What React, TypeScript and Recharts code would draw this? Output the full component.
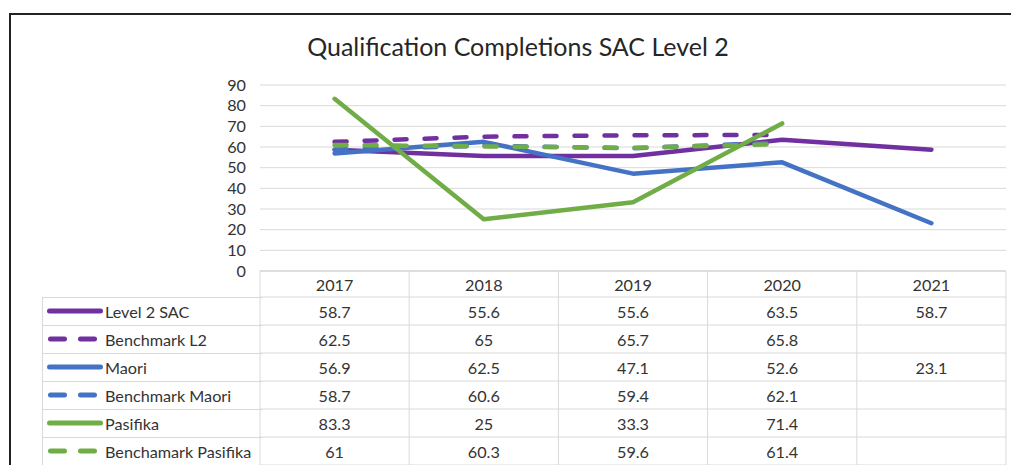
import { LineChart, Line, XAxis, YAxis, CartesianGrid } from 'recharts'

const years = ['2017', '2018', '2019', '2020', '2021']
const level2Sac = [58.7, 55.6, 55.6, 63.5, 58.7]
const benchmarkL2 = [62.5, 65, 65.7, 65.8, null]
const maori = [56.9, 62.5, 47.1, 52.6, 23.1]
const benchmarkMaori = [58.7, 60.6, 59.4, 62.1, null]
const pasifika = [83.3, 25, 33.3, 71.4, null]
const benchmarkPasifika = [61, 60.3, 59.6, 61.4, null]
const yTicks = [0, 10, 20, 30, 40, 50, 60, 70, 80, 90]

const series = [
  { key: 'l2', name: 'Level 2 SAC', values: level2Sac, color: '#7030A0', dashed: false },
  { key: 'bl2', name: 'Benchmark L2', values: benchmarkL2, color: '#7030A0', dashed: true },
  { key: 'm', name: 'Maori', values: maori, color: '#4472C4', dashed: false },
  { key: 'bm', name: 'Benchmark Maori', values: benchmarkMaori, color: '#4472C4', dashed: true },
  { key: 'p', name: 'Pasifika', values: pasifika, color: '#70AD47', dashed: false },
  { key: 'bp', name: 'Benchamark Pasifika', values: benchmarkPasifika, color: '#70AD47', dashed: true },
]

const data = years.map((y, i) => {
  const row: any = { year: y }
  series.forEach(s => { row[s.key] = s.values[i] })
  return row
})

const FONT = 'Lato, "Open Sans", sans-serif'
const TEXT = '#333333'
const GRID = '#d9d9d9'
const FS = 16.2
const HALF = 74.6
const HEAD_H = 26
const ROW_H = 28

function TableTick(props: any) {
  const { x, y, payload, index } = props
  const i = payload.index ?? index
  const lines = []
  lines.push(<line key='top' x1={x - HALF} x2={x + HALF} y1={y} y2={y} stroke={GRID} />)
  for (let r = 0; r <= series.length; r++) {
    const yy = y + HEAD_H + r * ROW_H
    lines.push(<line key={'h' + r} x1={x - HALF} x2={x + HALF} y1={yy} y2={yy} stroke={GRID} />)
  }
  return (
    <g>
      {lines}
      {i === 0 && <line x1={x - HALF} x2={x - HALF} y1={y} y2={y + 200} stroke={GRID} />}
      <line x1={x + HALF} x2={x + HALF} y1={y} y2={y + 200} stroke={GRID} />
      <text x={x} y={y + HEAD_H / 2} textAnchor='middle' dominantBaseline='central' fontSize={FS} fill={TEXT} fontFamily={FONT}>{payload.value}</text>
      {series.map((s, r) => {
        const v = s.values[i]
        return v == null ? null : (
          <text key={s.key} x={x} y={y + HEAD_H + r * ROW_H + ROW_H / 2} textAnchor='middle' dominantBaseline='central' fontSize={FS} fill={TEXT} fontFamily={FONT}>{v}</text>
        )
      })}
    </g>
  )
}

function LegendColumn() {
  return (
    <svg width={220} height={180} style={{ position: 'absolute', left: 42, top: 297 }}>
      <line x1={0.5} x2={0.5} y1={0} y2={180} stroke={GRID} />
      {series.map((s, r) => (
        <g key={s.key}>
          <line x1={0} x2={220} y1={r * ROW_H + 0.5} y2={r * ROW_H + 0.5} stroke={GRID} />
          <line x1={s.dashed ? 8.5 : 7.5} x2={s.dashed ? 58 : 58.5} y1={r * ROW_H + 14} y2={r * ROW_H + 14}
            stroke={s.color} strokeWidth={5} strokeLinecap='round'
            strokeDasharray={s.dashed ? '14 16' : undefined} />
          <text x={63} y={r * ROW_H + 14} dominantBaseline='central' fontSize={FS} fill={TEXT} fontFamily={FONT}>{s.name}</text>
        </g>
      ))}
    </svg>
  )
}

export default function App() {
  return (
    <div style={{ position: 'relative', width: 1011, height: 465, overflow: 'hidden', background: '#fff' }}>
      <style>{'body{margin:0}'}</style>
      <div style={{ position: 'absolute', left: 9, top: 13, width: 1010, height: 460, borderTop: '2px solid #222', borderLeft: '2px solid #222' }} />
      <div style={{ position: 'absolute', left: 8, top: 31, width: 1020, textAlign: 'center', fontFamily: FONT, fontSize: 25, color: '#262626' }}>
        Qualification Completions SAC Level 2
      </div>
      <LineChart width={1011} height={465} data={data} margin={{ top: 85, right: 5, bottom: 0, left: 220 }}>
        <CartesianGrid vertical={false} stroke={GRID} />
        <XAxis dataKey='year' height={194} padding={{ left: HALF, right: HALF }} axisLine={{ stroke: GRID }}
          tickLine={false} tickSize={0} tickMargin={0} tick={<TableTick />} interval={0} />
        <YAxis width={40} domain={[0, 90]} ticks={yTicks} interval={0} axisLine={false} tickLine={false} tickSize={0} tickMargin={14}
          tick={{ fontSize: FS, fill: TEXT, fontFamily: FONT }} />
        {series.map(s => (
          <Line key={s.key} dataKey={s.key} name={s.name} stroke={s.color} strokeWidth={4.5} dot={false}
            type='linear' isAnimationActive={false} strokeLinecap='round' strokeLinejoin='round'
            strokeDasharray={s.dashed ? '12 18' : undefined} />
        ))}
      </LineChart>
      <LegendColumn />
    </div>
  )
}
